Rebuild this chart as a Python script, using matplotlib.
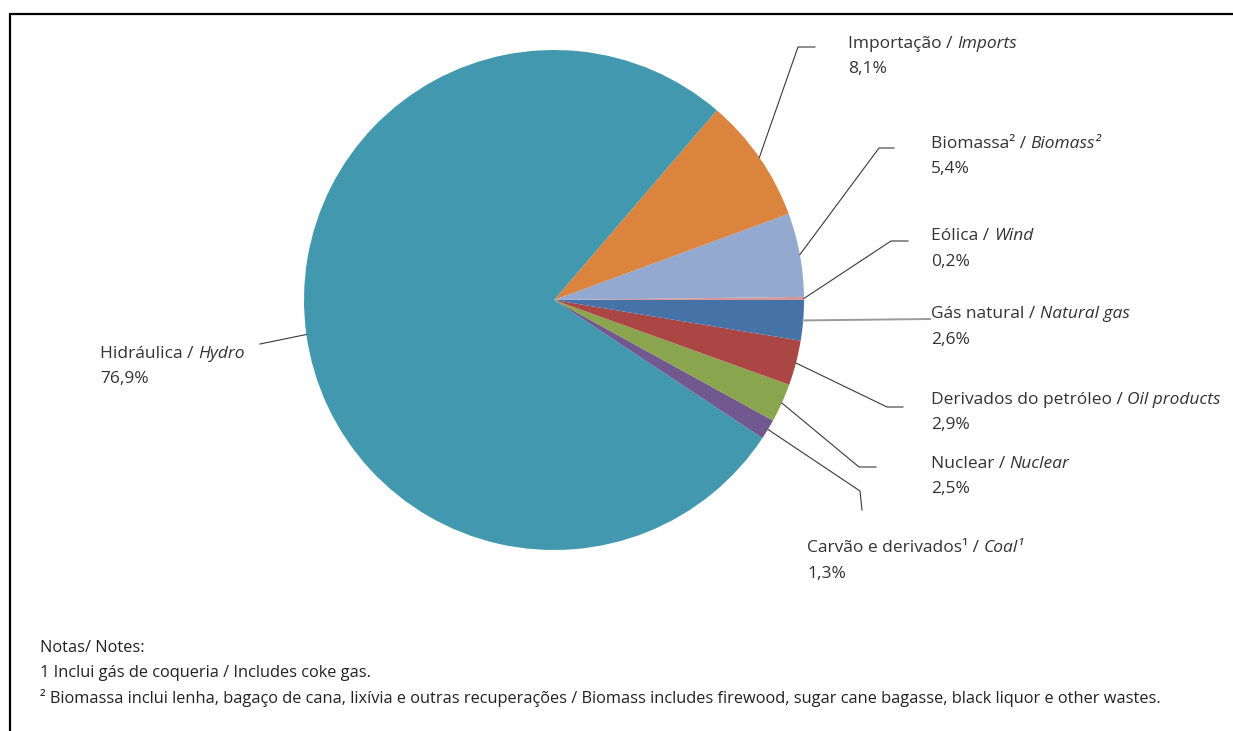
import matplotlib
matplotlib.use("Agg")
import matplotlib.pyplot as plt
import numpy as np

# data (counter-clockwise from 3 o'clock)
labels_pt = ["Eólica", "Biomassa²", "Importação", "Hidráulica",
             "Carvão e derivados¹", "Nuclear", "Derivados do petróleo", "Gás natural"]
labels_en = ["Wind", "Biomass²", "Imports", "Hydro",
             "Coal¹", "Nuclear", "Oil products", "Natural gas"]
shares = [0.2, 5.4, 8.1, 76.9, 1.3, 2.5, 2.9, 2.6]
colors = ["#D99795", "#93A9CF", "#DB843D", "#4198AF",
          "#71588F", "#89A54E", "#AA4643", "#4572A7"]

notes = ["Notas/ Notes:",
         "1 Inclui gás de coqueria / Includes coke gas.",
         "² Biomassa inclui lenha, bagaço de cana, lixívia e outras recuperações / "
         "Biomass includes firewood, sugar cane bagasse, black liquor e other wastes."]

# layout, in pixels from top-left: (elbow, line end, text anchor)
elbows = [(891, 241), (879, 148), (798, 47), None,
          (860, 491), (859, 467), (887, 407), None]
ends = [(908, 241), (894, 148), (815, 47), (260, 344),
        (862, 510), (876, 467), (903, 407), (930, 319)]
text_pos = [(931, 234), (931, 141), (848, 41), (100, 351),
            (807, 546), (931, 461), (931, 397), (931, 312)]

W, H = 1233, 731
CX, CY, R = 554, 300, 250
FONT = "Open Sans"
TXT = "#333333"

fig = plt.figure(figsize=(W / 100, H / 100), dpi=100, facecolor="w")
ax = fig.add_axes([0, 0, 1, 1])

wedges, _ = ax.pie(shares, colors=colors, startangle=0, counterclock=False,
                   radius=R, center=(CX, CY),
                   wedgeprops=dict(linewidth=0, antialiased=True))
ax.set_xlim(0, W)
ax.set_ylim(H, 0)
ax.set_aspect("auto")
ax.axis("off")

# frame (top and left edge of the original box)
ax.plot([9, W], [14, 14], color="k", lw=1.6, solid_capstyle="butt", clip_on=False)
ax.plot([10, 10], [13, H], color="k", lw=1.6, solid_capstyle="butt", clip_on=False)

renderer = fig.canvas.get_renderer()

def text_width(s, **kw):
    t = ax.text(0, 0, s, **kw)
    w = t.get_window_extent(renderer).width
    t.remove()
    return w

total = float(sum(shares))
cum = np.cumsum([0] + shares)
for i in range(len(shares)):
    mid = -(cum[i] + shares[i] / 2.0) / total * 2 * np.pi
    x0 = CX + R * np.cos(mid)
    y0 = CY + R * np.sin(mid)
    pts = [(x0, y0)]
    if elbows[i] is not None:
        pts.append(elbows[i])
    pts.append(ends[i])
    xs, ys = zip(*pts)
    if labels_en[i] == "Natural gas":
        ax.plot(xs, ys, color="#9a9a9a", lw=1.4)
    else:
        ax.plot(xs, ys, color="#3a3a3a", lw=0.8)

    tx, ty = text_pos[i]
    base = ty + 6.5
    kw = dict(fontsize=12.5, family=FONT, color=TXT, va="baseline", ha="left")
    first = labels_pt[i] + " /"
    ax.text(tx, base, first, **kw)
    sp = text_width("a a", **kw) - text_width("aa", **kw)
    ax.text(tx + text_width(first, **kw) + sp, base, labels_en[i], style="italic", **kw)
    pct = ("%.1f%%" % shares[i]).replace(".", ",")
    ax.text(tx, base + 25.5, pct, **kw)

for k, line in enumerate(notes):
    ax.text(40, 648 + 25 * k, line, fontsize=11.8, family=FONT, color="#222222",
            va="center", ha="left")

fig.savefig("out.png", dpi=100, facecolor="w")
